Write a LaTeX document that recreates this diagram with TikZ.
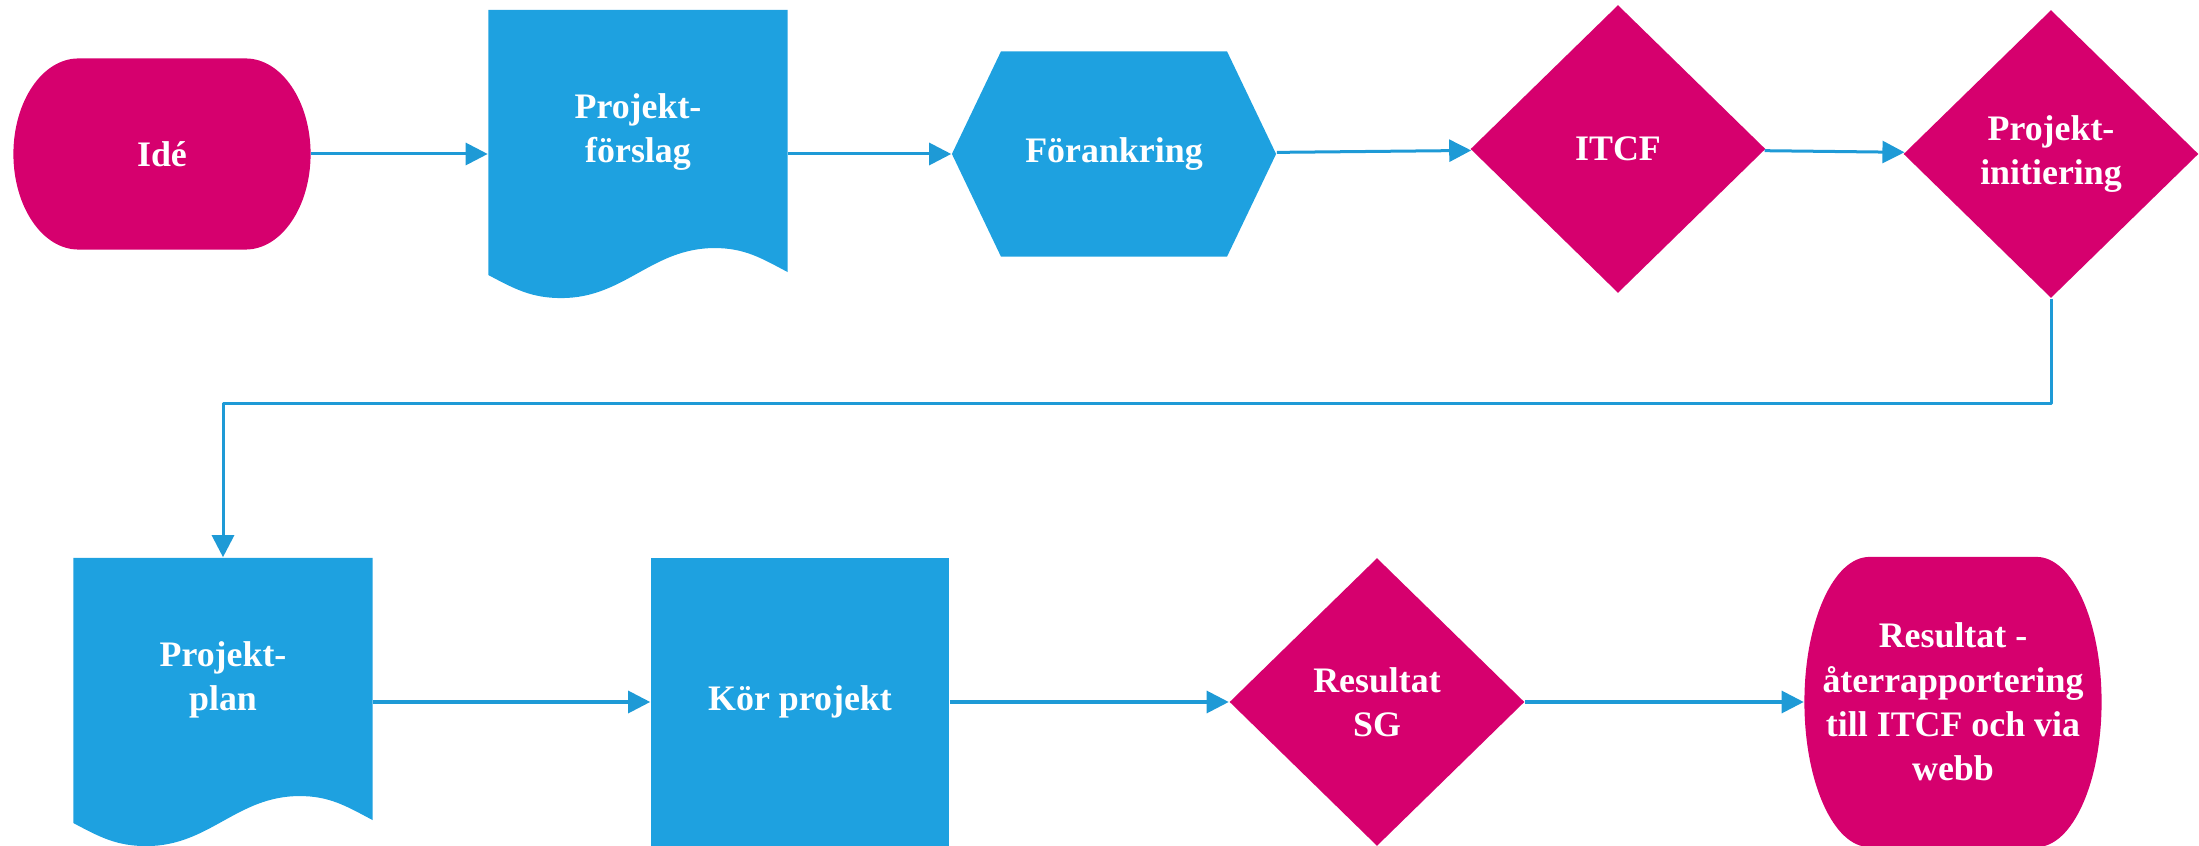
\documentclass[tikz,border=0pt]{standalone}
\usepackage{fontspec}
\setmainfont{Liberation Serif}
\usetikzlibrary{shapes.geometric,arrows.meta}
\definecolor{rosa}{RGB}{214,0,110}
\definecolor{bla}{RGB}{30,161,224}
\definecolor{pil}{RGB}{30,154,214}
\def\pb{path picture bounding box}
\tikzset{
  txt/.style={inner sep=0pt, align=center, text=white, font=\bfseries\fontsize{10.2}{12.6}\selectfont},
  beslut/.style={txt, diamond, fill=rosa, minimum width=2.95cm, minimum height=2.88cm},
  ruta/.style={txt, rectangle, fill=bla, minimum width=2.98cm, minimum height=2.88cm},
  dok/.style={txt, rectangle, minimum width=2.99cm, minimum height=2.88cm, path picture={
    \fill[bla] (\pb.north west) -- ([yshift=0.23cm]\pb.south west)
      to[out=-28,in=180] ([xshift=0.73cm]\pb.south west)
      to[out=0,in=180] ([xshift=2.26cm,yshift=0.5cm]\pb.south west)
      to[out=0,in=152] ([yshift=0.26cm]\pb.south east)
      -- (\pb.north east) -- cycle;}},
  sexkant/.style={txt, rectangle, minimum width=3.24cm, minimum height=2.05cm, path picture={
    \fill[bla] (\pb.west) -- ([xshift=0.49cm]\pb.north west) -- ([xshift=-0.49cm]\pb.north east)
      -- (\pb.east) -- ([xshift=-0.49cm]\pb.south east) -- ([xshift=0.49cm]\pb.south west) -- cycle;}},
  slut/.style={txt, rectangle, minimum width=2.97cm, minimum height=2*#1, path picture={
    \fill[rosa] (\pb.west) arc[start angle=180,end angle=90,x radius=0.65cm,y radius=#1]
      -- ([xshift=-0.65cm]\pb.north east) arc[start angle=90,end angle=-90,x radius=0.65cm,y radius=#1]
      -- ([xshift=0.65cm]\pb.south west) arc[start angle=270,end angle=180,x radius=0.65cm,y radius=#1]
      -- cycle;}},
  doktext/.style={txt, yshift=0.22cm}
}
\begin{document}
\begin{tikzpicture}[x=0.01cm,y=-0.01cm,line join=round,>={Triangle[length=0.22cm,width=0.22cm]}]
\useasboundingbox (0,0) rectangle (2199,846);
% upper row
\node[slut=0.955cm] (ide) at (162,154) {Idé};
\node[dok,label={[doktext]center:Projekt-\\förslag}] (forslag) at (638,154) {};
\node[sexkant] (fa) at (1114,154) {Förankring};
\node[beslut] (itcf) at (1618,149) {ITCF};
\node[beslut] (init) at (2051,154) {Projekt-\\initiering};
% lower row
\node[dok,label={[doktext]center:Projekt-\\plan}] (plan) at (223,702) {};
\node[ruta] (kor) at (800,702) {Kör projekt};
\node[beslut] (sg) at (1377,702) {Resultat\\SG};
\node[slut=1.45cm] (res) at (1953,702) {Resultat -\\återrapportering\\till ITCF och via\\webb};
% arrows
\begin{scope}[pil,line width=0.03cm,->]
\draw (ide) -- (forslag);
\draw (forslag) -- (fa);
\draw (fa) -- (itcf);
\draw (itcf) -- (init);
\draw (init.south) -- ++(0,105) -| (plan);
\draw (plan) -- (kor);
\draw (kor) -- (sg);
\draw (sg) -- (res);
\end{scope}
\end{tikzpicture}
\end{document}
